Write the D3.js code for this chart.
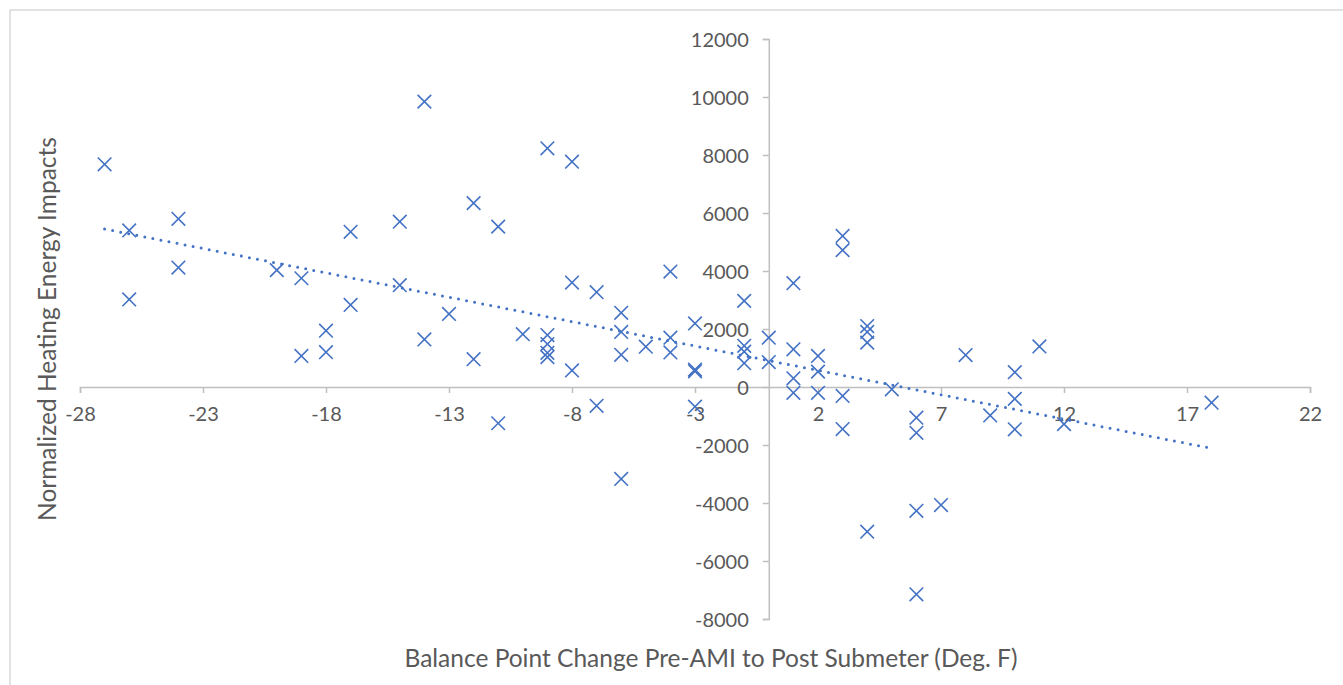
<!DOCTYPE html>
<html>
<head>
<meta charset="utf-8">
<script src="https://cdn.jsdelivr.net/npm/d3@7/dist/d3.min.js"></script>
<style>
  html, body { margin: 0; padding: 0; background: #fff; }
  svg { display: block; }
  text { font-family: Lato, "Open Sans", sans-serif; fill: #595959; }
</style>
</head>
<body>
<svg id="chart" width="1343" height="685"></svg>
<script>
// Balance point change (deg F) for each site
const balanceChange = [
  -27, -26, -26, -24, -24, -20, -19, -19, -18, -18, -17, -17, -15, -15,
  -14, -14, -13, -12, -12, -11, -11, -10, -9, -9, -9, -9, -9,
  -8, -8, -8, -7, -7, -6, -6, -6, -6, -5, -4, -4, -4,
  -3, -3, -3, -3, -1, -1, -1, -1, 0, 0,
  1, 1, 1, 1, 2, 2, 2, 3, 3, 3, 3, 4, 4, 4, 4, 5,
  6, 6, 6, 6, 7, 8, 9, 10, 10, 10, 11, 12, 18
];
// Normalized heating energy impact for each site
const heatingImpact = [
  7680, 5400, 3020, 5800, 4120, 4030, 3750, 1070, 1940, 1200, 5350, 2830, 5700, 3510,
  9840, 1640, 2520, 6340, 960, 5530, -1250, 1820, 8230, 1790, 1480, 1180, 1030,
  7770, 3600, 570, 3270, -650, 2560, 1900, 1110, -3170, 1390, 3980, 1700, 1190,
  2190, 600, 540, -680, 2970, 1420, 1220, 820, 1700, 860,
  3580, 1300, 300, -200, 1070, 530, -200, 5210, 4720, -310, -1450, 2100, 1900, 1530, -4990, -80,
  -1060, -1580, -4270, -7150, -4070, 1100, -980, 510, -410, -1460, 1400, -1280, -540
];

// Linear trendline: impact = slope * change + intercept, over the data's x span
const trendSlope = -168.1;
const trendIntercept = 910;
const trendSpan = [-27, 18];

const xTicks = [-28, -23, -18, -13, -8, -3, 2, 7, 12, 17, 22];
const yTicks = [-8000, -6000, -4000, -2000, 0, 2000, 4000, 6000, 8000, 10000, 12000];

const xTitle = "Balance Point Change Pre-AMI to Post Submeter (Deg. F)";
const yTitle = "Normalized Heating Energy Impacts";

const svg = d3.select("#chart");
const blue = "#4472C4";
const axisGray = "#BFBFBF";
const fmt = v => String(v); // plain hyphen-minus

// Chart frame
svg.append("rect")
  .attr("x", 10).attr("y", 10)
  .attr("width", 1345).attr("height", 690)
  .attr("fill", "#fff")
  .attr("stroke", "#D9D9D9").attr("stroke-width", 1.5);

const x = d3.scaleLinear().domain([-28, 22]).range([80, 1310]);
const y = d3.scaleLinear().domain([-8000, 12000]).range([619, 39]);

// Horizontal axis crossing at zero impact
const xAxis = svg.append("g")
  .attr("transform", `translate(0,${y(0)})`)
  .call(d3.axisBottom(x).tickValues(xTicks).tickSize(6).tickPadding(14).tickFormat(fmt));

// Vertical axis crossing at zero change
const yAxis = svg.append("g")
  .attr("transform", `translate(${x(0)},0)`)
  .call(d3.axisLeft(y).tickValues(yTicks).tickSize(6).tickPadding(14).tickFormat(fmt));

[xAxis, yAxis].forEach(g => {
  g.select(".domain").attr("stroke", axisGray).attr("stroke-width", 1.5);
  g.selectAll(".tick line").attr("stroke", axisGray).attr("stroke-width", 1.5);
  g.selectAll(".tick text")
    .attr("fill", "#595959")
    .style("font-family", "Lato, 'Open Sans', sans-serif")
    .style("font-size", "20px");
});
yAxis.selectAll(".tick text").attr("dy", "0.35em");

// Trendline
const trendPts = trendSpan.map(v => [v, trendSlope * v + trendIntercept]);
svg.append("path")
  .datum(trendPts)
  .attr("d", d3.line().x(d => x(d[0])).y(d => y(d[1])))
  .attr("fill", "none")
  .attr("stroke", blue)
  .attr("stroke-width", 3)
  .attr("stroke-linecap", "round")
  .attr("stroke-dasharray", "0 8.2");

// X markers
const pts = balanceChange.map((v, i) => [v, heatingImpact[i]]);
const r = 6.8;
svg.append("g")
  .selectAll("path")
  .data(pts)
  .join("path")
  .attr("d", d => {
    const cx = x(d[0]), cy = y(d[1]);
    return `M${cx - r},${cy - r}L${cx + r},${cy + r}M${cx - r},${cy + r}L${cx + r},${cy - r}`;
  })
  .attr("fill", "none")
  .attr("stroke", blue)
  .attr("stroke-width", 1.6);

// Axis titles
svg.append("text")
  .attr("x", 711).attr("y", 667)
  .attr("text-anchor", "middle")
  .style("font-size", "24.5px")
  .text(xTitle);

svg.append("text")
  .attr("transform", `translate(56,329) rotate(-90)`)
  .attr("text-anchor", "middle")
  .style("font-size", "24.5px")
  .text(yTitle);
</script>
</body>
</html>
